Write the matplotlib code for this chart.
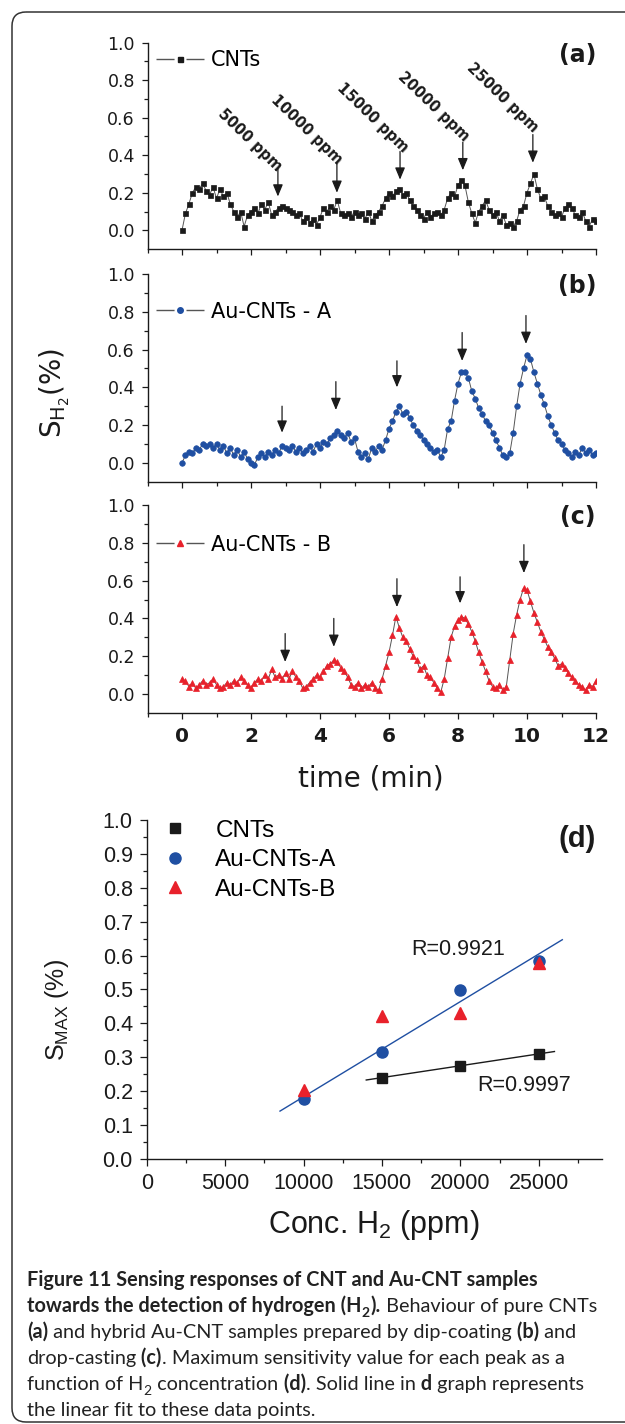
import numpy as np
import matplotlib
matplotlib.use("Agg")
import matplotlib.pyplot as plt
from matplotlib.lines import Line2D
from matplotlib.patches import FancyBboxPatch
from matplotlib.ticker import FixedLocator

# ---- time traces (a)-(c), one reading every 0.1 min ----
time_min = np.linspace(0, 12, 121)

cnts = [
    0.00, 0.09, 0.14, 0.20, 0.23, 0.22, 0.25, 0.21, 0.19, 0.23,
    0.17, 0.22, 0.18, 0.20, 0.14, 0.10, 0.07, 0.10, 0.02, 0.08,
    0.10, 0.12, 0.09, 0.14, 0.11, 0.15, 0.08, 0.10, 0.12, 0.13,
    0.12, 0.11, 0.10, 0.08, 0.09, 0.05, 0.07, 0.04, 0.06, 0.03,
    0.07, 0.12, 0.10, 0.13, 0.11, 0.16, 0.09, 0.08, 0.09, 0.07,
    0.10, 0.08, 0.09, 0.06, 0.10, 0.05, 0.08, 0.10, 0.13, 0.17,
    0.20, 0.18, 0.21, 0.22, 0.19, 0.20, 0.16, 0.13, 0.11, 0.08,
    0.06, 0.10, 0.07, 0.09, 0.10, 0.08, 0.11, 0.17, 0.20, 0.18,
    0.24, 0.27, 0.24, 0.15, 0.09, 0.04, 0.10, 0.13, 0.16, 0.11,
    0.08, 0.10, 0.05, 0.08, 0.03, 0.04, 0.02, 0.05, 0.11, 0.13,
    0.20, 0.25, 0.30, 0.22, 0.17, 0.18, 0.13, 0.10, 0.08, 0.09,
    0.07, 0.12, 0.14, 0.12, 0.08, 0.07, 0.10, 0.05, 0.02, 0.06,
    0.05,
]

au_cnts_a = [
    0.00, 0.04, 0.06, 0.05, 0.08, 0.07, 0.10, 0.09, 0.10, 0.08,
    0.10, 0.07, 0.09, 0.05, 0.08, 0.04, 0.07, 0.03, 0.06, 0.02,
    0.00, -0.01, 0.03, 0.05, 0.03, 0.06, 0.04, 0.07, 0.05, 0.09,
    0.08, 0.07, 0.09, 0.06, 0.08, 0.05, 0.07, 0.09, 0.06, 0.10,
    0.08, 0.11, 0.10, 0.13, 0.15, 0.17, 0.15, 0.13, 0.16, 0.11,
    0.13, 0.06, 0.03, 0.05, 0.02, 0.08, 0.06, 0.09, 0.07, 0.12,
    0.18, 0.22, 0.27, 0.30, 0.26, 0.27, 0.24, 0.20, 0.17, 0.15,
    0.12, 0.10, 0.08, 0.06, 0.07, 0.03, 0.07, 0.18, 0.22, 0.33,
    0.42, 0.48, 0.48, 0.45, 0.38, 0.34, 0.29, 0.26, 0.22, 0.20,
    0.16, 0.12, 0.08, 0.04, 0.03, 0.05, 0.16, 0.30, 0.42, 0.50,
    0.57, 0.55, 0.48, 0.42, 0.36, 0.31, 0.25, 0.20, 0.16, 0.12,
    0.10, 0.07, 0.05, 0.03, 0.06, 0.04, 0.08, 0.05, 0.07, 0.04,
    0.05,
]

au_cnts_b = [
    0.08, 0.07, 0.04, 0.06, 0.03, 0.05, 0.07, 0.05, 0.06, 0.08,
    0.05, 0.03, 0.04, 0.06, 0.05, 0.07, 0.06, 0.09, 0.07, 0.05,
    0.03, 0.06, 0.08, 0.07, 0.10, 0.08, 0.13, 0.09, 0.10, 0.08,
    0.11, 0.08, 0.12, 0.09, 0.07, 0.03, 0.04, 0.06, 0.08, 0.10,
    0.09, 0.12, 0.15, 0.16, 0.18, 0.17, 0.14, 0.12, 0.09, 0.05,
    0.04, 0.06, 0.03, 0.05, 0.04, 0.06, 0.03, 0.02, 0.08, 0.15,
    0.22, 0.31, 0.41, 0.35, 0.30, 0.28, 0.24, 0.20, 0.18, 0.13,
    0.15, 0.10, 0.09, 0.06, 0.03, 0.01, 0.08, 0.19, 0.30, 0.36,
    0.39, 0.41, 0.40, 0.37, 0.33, 0.28, 0.22, 0.17, 0.12, 0.07,
    0.04, 0.03, 0.05, 0.02, 0.04, 0.18, 0.32, 0.42, 0.50, 0.56,
    0.55, 0.49, 0.43, 0.38, 0.33, 0.29, 0.25, 0.22, 0.19, 0.15,
    0.16, 0.14, 0.11, 0.09, 0.07, 0.05, 0.04, 0.02, 0.05, 0.04,
    0.07,
]

# H2 pulses marked by arrows: time, arrow tail, arrow tip
conc_labels = ["5000 ppm", "10000 ppm", "15000 ppm", "20000 ppm", "25000 ppm"]
arrows_a = [(2.78, 0.33, 0.18), (4.49, 0.36, 0.20), (6.32, 0.42, 0.27),
            (8.14, 0.47, 0.32), (10.17, 0.51, 0.36)]
label_pos_a = [(1.97, 0.48), (3.62, 0.535), (5.51, 0.60), (7.28, 0.66), (9.30, 0.705)]
arrows_b = [(2.90, 0.30, 0.16), (4.46, 0.43, 0.28), (6.23, 0.54, 0.40),
            (8.12, 0.69, 0.54), (9.97, 0.78, 0.63)]
arrows_c = [(2.99, 0.32, 0.17), (4.40, 0.40, 0.25), (6.23, 0.61, 0.46),
            (8.06, 0.62, 0.48), (9.91, 0.79, 0.64)]

# ---- panel (d): maximum response vs H2 concentration ----
conc_cnts = [15000, 20000, 25000]
smax_cnts = [0.240, 0.275, 0.310]
conc_au = [10000, 15000, 20000, 25000]
smax_au_a = [0.177, 0.317, 0.497, 0.585]
smax_au_b = [0.203, 0.422, 0.432, 0.578]
fit_range_a = [8500, 26500]
fit_range_cnts = [14000, 26000]

# caption runs: (text, bold, subscript)
B, R = True, False
caption = [
    [("Figure 11 Sensing responses of CNT and Au-CNT samples", B, False)],
    [("towards the detection of hydrogen (H", B, False), ("2", B, True), (").", B, False),
     (" Behaviour of pure CNTs", R, False)],
    [("(a)", B, False), (" and hybrid Au-CNT samples prepared by dip-coating", R, False),
     (" (b)", B, False), (" and", R, False)],
    [("drop-casting", R, False), (" (c)", B, False),
     (". Maximum sensitivity value for each peak as a", R, False)],
    [("function of H", R, False), ("2", R, True), (" concentration", R, False), (" (d)", B, False),
     (". Solid line in", R, False), (" d", B, False), (" graph represents", R, False)],
    [("the linear fit to these data points.", R, False)],
]

BLUE = "#1f4fa2"
RED = "#e8212b"
INK = "#1a1a1a"
LS = "Liberation Sans"
CAP = "Lato"

fig = plt.figure(figsize=(6.25, 14.24), dpi=100)

# pixel-space background layer for the frame and caption
bg = fig.add_axes([0, 0, 1, 1], zorder=-1)
bg.set_xlim(0, 625)
bg.set_ylim(1424, 0)
bg.axis("off")
bg.add_patch(FancyBboxPatch((12, 12), 650, 1410, boxstyle="round,pad=0,rounding_size=14",
                            fill=False, ec="#333333", lw=1.1))

time_axes = [
    fig.add_axes([0.236, 0.8251, 0.7176, 0.1450]),
    fig.add_axes([0.236, 0.6617, 0.7176, 0.1459]),
    fig.add_axes([0.236, 0.4993, 0.7176, 0.1461]),
]
series = [
    (cnts, "s", INK, 3.6, "CNTs", 0.915, "(a)", arrows_a),
    (au_cnts_a, "o", BLUE, 4.0, "Au-CNTs - A", 0.818, "(b)", arrows_b),
    (au_cnts_b, "^", RED, 4.6, "Au-CNTs - B", 0.809, "(c)", arrows_c),
]

for i, (ax, (vals, mk, col, ms, name, leg_y, tag, arrows)) in enumerate(zip(time_axes, series)):
    ax.plot(time_min, vals, color="#555555", lw=0.7, marker=mk, ms=ms, mfc=col, mec=col, mew=0.5)
    ax.set_xlim(-1, 12)
    ax.set_ylim(-0.1, 1.0)
    for s in ["top", "right"]:
        ax.spines[s].set_visible(False)
    for s in ["left", "bottom"]:
        ax.spines[s].set_linewidth(1.0)
        ax.spines[s].set_color(INK)
    ax.yaxis.set_major_locator(FixedLocator([0, 0.2, 0.4, 0.6, 0.8, 1.0]))
    ax.yaxis.set_minor_locator(FixedLocator([0.1, 0.3, 0.5, 0.7, 0.9]))
    ax.set_yticklabels(["0.0", "0.2", "0.4", "0.6", "0.8", "1.0"])
    ax.xaxis.set_major_locator(FixedLocator([0, 2, 4, 6, 8, 10, 12]))
    ax.xaxis.set_minor_locator(FixedLocator([-1, 1, 3, 5, 7, 9, 11]))
    ax.tick_params(which="major", direction="out", length=4, width=0.9, color=INK, pad=5)
    ax.tick_params(which="minor", direction="out", length=3, width=0.9, color=INK)
    ax.tick_params(axis="y", labelsize=12.5, labelcolor=INK)
    if i < 2:
        ax.tick_params(axis="x", labelbottom=False)
    else:
        ax.tick_params(axis="x", labelsize=14.5, labelcolor=INK, pad=6)
        for lbl in ax.get_xticklabels():
            lbl.set_fontweight("bold")
    ax.patch.set_alpha(0)

    handle = Line2D([], [], color="#555555", lw=1.0, linestyle=(0, (13, 8.6, 13, 50)),
                    marker=mk, ms=ms, mfc=col, mec=col)
    ax.legend([handle], [name], loc="center left", bbox_to_anchor=(0.02, leg_y),
              frameon=False, borderpad=0, borderaxespad=0, handlelength=2.3,
              handletextpad=0.3, fontsize=15, numpoints=1)
    ax.text(1.0, 0.94, tag, transform=ax.transAxes, ha="right", va="center",
            fontsize=17, fontweight="bold", color=INK)

    for x, tail, tip in arrows:
        ax.annotate("", xy=(x, tip), xytext=(x, tail),
                    arrowprops=dict(arrowstyle="-|>,head_length=0.6,head_width=0.25",
                                    mutation_scale=12, color=INK, lw=0.9,
                                    shrinkA=0, shrinkB=0))

for txt, (x, y) in zip(conc_labels, label_pos_a):
    time_axes[0].text(x, y, txt, rotation=-44, ha="center", va="center",
                      fontsize=10.5, fontweight="bold", color=INK)

fig.text(55 / 625, 1 - 393 / 1424, r"S$_{\mathregular{H}_{\mathregular{2}}}$(%)",
         rotation=90, ha="center", va="center", fontsize=20, color=INK)
fig.text(371 / 625, 1 - 778 / 1424, "time (min)", ha="center", va="center",
         fontsize=20, color=INK)

# ---- panel (d) ----
axd = fig.add_axes([0.2347, 0.1861, 0.7277, 0.2381])
cf_a = np.polyfit(conc_au, smax_au_a, 1)
cf_c = np.polyfit(conc_cnts, smax_cnts, 1)
axd.plot(fit_range_a, np.polyval(cf_a, fit_range_a), color=BLUE, lw=1.0, zorder=2)
axd.plot(fit_range_cnts, np.polyval(cf_c, fit_range_cnts), color=INK, lw=1.0, zorder=2)
axd.plot(conc_cnts, smax_cnts, "s", color=INK, ms=7.5, label="CNTs", zorder=3)
axd.plot(conc_au, smax_au_a, "o", color=BLUE, ms=8, label="Au-CNTs-A", zorder=3)
axd.plot(conc_au, smax_au_b, "^", color=RED, ms=9, label="Au-CNTs-B", zorder=4)
axd.set_xlim(0, 29000)
axd.set_ylim(0, 1.0)
for s in ["top", "right"]:
    axd.spines[s].set_visible(False)
for s in ["left", "bottom"]:
    axd.spines[s].set_linewidth(1.0)
    axd.spines[s].set_color(INK)
axd.xaxis.set_major_locator(FixedLocator([0, 5000, 10000, 15000, 20000, 25000]))
axd.xaxis.set_minor_locator(FixedLocator([2500, 7500, 12500, 17500, 22500, 27500]))
axd.yaxis.set_major_locator(FixedLocator([k / 10 for k in range(11)]))
axd.yaxis.set_minor_locator(FixedLocator([k / 10 + 0.05 for k in range(10)]))
axd.set_yticklabels(["%.1f" % (k / 10) for k in range(11)])
axd.tick_params(which="major", direction="out", length=5, width=0.9, color=INK, pad=5)
axd.tick_params(which="minor", direction="out", length=3, width=0.9, color=INK)
for lbl in axd.get_xticklabels() + axd.get_yticklabels():
    lbl.set_fontfamily(LS)
    lbl.set_fontsize(15.5)
    lbl.set_color(INK)
axd.legend(loc="upper left", bbox_to_anchor=(0.036, 1.0), frameon=False, borderpad=0,
           borderaxespad=0, handlelength=1.0, handletextpad=1.15, labelspacing=0.3,
           prop={"family": LS, "size": 17.5}, numpoints=1)
axd.text(0.987, 0.944, "(d)", transform=axd.transAxes, ha="right", va="center",
         fontsize=21, fontweight="bold", family=LS, color=INK)
axd.text(16877, 0.617, "R=0.9921", ha="left", va="center", fontsize=15.5, family=LS, color=INK)
axd.text(21087, 0.218, "R=0.9997", ha="left", va="center", fontsize=15.5, family=LS, color=INK)
axd.patch.set_alpha(0)

fig.text(57 / 625, 1 - 1010 / 1424, r"S$_{\mathregular{MAX}}$ (%)", rotation=90,
         ha="center", va="center", fontsize=18, family=LS, color=INK)
fig.text(374 / 625, 1 - 1225 / 1424, r"Conc. H$_{\mathregular{2}}$ (ppm)", ha="center",
         va="center", fontsize=22, family=LS, color=INK)

# ---- caption, laid out run by run ----
renderer = fig.canvas.get_renderer()
cap_size = 14.3
for k, runs in enumerate(caption):
    x = 27
    base = 1286 + 26 * k
    for txt, bold, sub in runs:
        t = bg.text(x, base + (5 if sub else 0), txt, ha="left", va="baseline",
                    fontsize=cap_size * (0.7 if sub else 1), family=CAP,
                    fontweight="bold" if bold else "normal", color="#222222")
        x += t.get_window_extent(renderer).width + (1 if sub else 0)

fig.savefig("out.png", dpi=100)
